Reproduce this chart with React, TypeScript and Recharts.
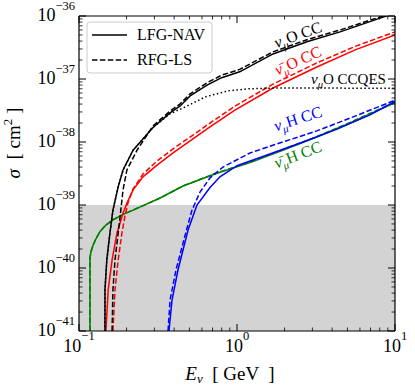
import { LineChart, Line, XAxis, YAxis, ReferenceArea } from 'recharts';

// energy (GeV) / cross section (cm^2) points
const NUMU_O_LFG = [
  { e: 0.146, s: 1e-41 }, { e: 0.146, s: 4.5e-41 }, { e: 0.15, s: 1.35e-40 }, { e: 0.157, s: 3.6e-40 },
  { e: 0.164, s: 8.3e-40 }, { e: 0.177, s: 1.94e-39 }, { e: 0.19, s: 3.6e-39 }, { e: 0.22, s: 7.4e-39 },
  { e: 0.294, s: 1.7e-38 }, { e: 0.377, s: 2.9e-38 }, { e: 0.435, s: 3.7e-38 }, { e: 0.505, s: 5.4e-38 },
  { e: 0.646, s: 8.0e-38 }, { e: 0.8, s: 1.05e-37 }, { e: 1.04, s: 1.3e-37 }, { e: 1.69, s: 2.5e-37 },
  { e: 2.77, s: 3.9e-37 }, { e: 4.49, s: 5.6e-37 }, { e: 8.4, s: 9.6e-37 }, { e: 10, s: 1.1e-36 },
];
const NUMU_O_RFG = [
  { e: 0.162, s: 1e-41 }, { e: 0.164, s: 4.5e-41 }, { e: 0.169, s: 1.35e-40 }, { e: 0.177, s: 3.6e-40 },
  { e: 0.182, s: 6.5e-40 }, { e: 0.19, s: 1.74e-39 }, { e: 0.201, s: 3.6e-39 }, { e: 0.233, s: 7.4e-39 },
  { e: 0.294, s: 1.8e-38 }, { e: 0.377, s: 3.1e-38 }, { e: 0.435, s: 4.0e-38 }, { e: 0.505, s: 5.8e-38 },
  { e: 0.646, s: 8.7e-38 }, { e: 0.8, s: 1.15e-37 }, { e: 1.04, s: 1.42e-37 }, { e: 1.69, s: 2.7e-37 },
  { e: 2.77, s: 4.2e-37 }, { e: 4.49, s: 6.0e-37 }, { e: 8.4, s: 1.0e-36 }, { e: 10, s: 1.15e-36 },
];
const NUMU_O_CCQES = [
  { e: 0.146, s: 1e-41 }, { e: 0.146, s: 4.5e-41 }, { e: 0.15, s: 1.35e-40 }, { e: 0.157, s: 3.6e-40 },
  { e: 0.164, s: 8.3e-40 }, { e: 0.177, s: 1.94e-39 }, { e: 0.19, s: 3.6e-39 }, { e: 0.22, s: 7.4e-39 },
  { e: 0.294, s: 1.7e-38 }, { e: 0.377, s: 2.8e-38 }, { e: 0.47, s: 3.6e-38 }, { e: 0.63, s: 5.2e-38 },
  { e: 0.88, s: 6.5e-38 }, { e: 1.2, s: 7.0e-38 }, { e: 1.8, s: 7.2e-38 }, { e: 3, s: 7.2e-38 },
  { e: 10, s: 7.1e-38 },
];
const NUMUBAR_O_LFG = [
  { e: 0.148, s: 1e-41 }, { e: 0.153, s: 4.5e-41 }, { e: 0.162, s: 1.35e-40 }, { e: 0.174, s: 3.6e-40 },
  { e: 0.19, s: 7.4e-40 }, { e: 0.201, s: 1.07e-39 }, { e: 0.22, s: 1.74e-39 }, { e: 0.254, s: 2.8e-39 },
  { e: 0.312, s: 4.3e-39 }, { e: 0.394, s: 6.7e-39 }, { e: 0.505, s: 1.04e-38 }, { e: 0.675, s: 1.74e-38 },
  { e: 0.97, s: 3.2e-38 }, { e: 1.69, s: 7.2e-38 }, { e: 3.2, s: 1.55e-37 }, { e: 5.6, s: 2.9e-37 },
  { e: 10, s: 5.0e-37 },
];
const NUMUBAR_O_RFG = [
  { e: 0.164, s: 1e-41 }, { e: 0.169, s: 4.5e-41 }, { e: 0.177, s: 1.35e-40 }, { e: 0.187, s: 3.6e-40 },
  { e: 0.195, s: 6.5e-40 }, { e: 0.204, s: 1.07e-39 }, { e: 0.22, s: 1.8e-39 }, { e: 0.254, s: 3.1e-39 },
  { e: 0.312, s: 5.0e-39 }, { e: 0.394, s: 7.8e-39 }, { e: 0.505, s: 1.2e-38 }, { e: 0.675, s: 2.0e-38 },
  { e: 0.97, s: 3.7e-38 }, { e: 1.69, s: 8.3e-38 }, { e: 3.2, s: 1.8e-37 }, { e: 5.6, s: 3.3e-37 },
  { e: 10, s: 5.6e-37 },
];
const NUMU_H_LFG = [
  { e: 0.371, s: 1e-41 }, { e: 0.388, s: 3.1e-41 }, { e: 0.423, s: 9.3e-41 }, { e: 0.49, s: 4.0e-40 },
  { e: 0.558, s: 1.0e-39 }, { e: 0.675, s: 1.9e-39 }, { e: 0.78, s: 2.8e-39 }, { e: 1.0, s: 4.2e-39 },
  { e: 1.55, s: 6.2e-39 }, { e: 2.62, s: 1.0e-38 }, { e: 4.3, s: 1.6e-38 }, { e: 6.95, s: 2.7e-38 },
  { e: 10, s: 4.4e-38 },
];
const NUMU_H_RFG = [
  { e: 0.366, s: 1e-41 }, { e: 0.377, s: 3.1e-41 }, { e: 0.411, s: 9.3e-41 }, { e: 0.469, s: 3.3e-40 },
  { e: 0.519, s: 8.3e-40 }, { e: 0.583, s: 1.6e-39 }, { e: 0.675, s: 2.7e-39 }, { e: 0.815, s: 4.0e-39 },
  { e: 1.21, s: 6.7e-39 }, { e: 1.95, s: 1.0e-38 }, { e: 3.2, s: 1.5e-38 }, { e: 5.2, s: 2.4e-38 },
  { e: 10, s: 4.6e-38 },
];
const NUMUBAR_H_LFG = [
  { e: 0.1174, s: 1e-41 }, { e: 0.1174, s: 1.45e-40 }, { e: 0.119, s: 1.8e-40 }, { e: 0.1227, s: 2.3e-40 },
  { e: 0.128, s: 2.9e-40 }, { e: 0.136, s: 3.8e-40 }, { e: 0.148, s: 4.8e-40 }, { e: 0.164, s: 5.8e-40 },
  { e: 0.19, s: 7.1e-40 }, { e: 0.22, s: 8.3e-40 }, { e: 0.326, s: 1.29e-39 }, { e: 0.455, s: 2.0e-39 },
  { e: 0.747, s: 3.2e-39 }, { e: 1.21, s: 4.7e-39 }, { e: 1.95, s: 7.4e-39 }, { e: 3.2, s: 1.2e-38 },
  { e: 5.2, s: 2.0e-38 }, { e: 10, s: 4.2e-38 },
];
const NUMUBAR_H_RFG = [
  { e: 0.1174, s: 1e-41 }, { e: 0.1174, s: 1.45e-40 }, { e: 0.119, s: 1.8e-40 }, { e: 0.1227, s: 2.3e-40 },
  { e: 0.128, s: 2.9e-40 }, { e: 0.136, s: 3.8e-40 }, { e: 0.148, s: 4.8e-40 }, { e: 0.164, s: 5.8e-40 },
  { e: 0.19, s: 7.1e-40 }, { e: 0.22, s: 8.3e-40 }, { e: 0.326, s: 1.29e-39 }, { e: 0.455, s: 2.0e-39 },
  { e: 0.747, s: 3.25e-39 }, { e: 1.21, s: 4.8e-39 }, { e: 1.95, s: 7.6e-39 }, { e: 3.2, s: 1.22e-38 },
  { e: 5.2, s: 2.05e-38 }, { e: 10, s: 4.3e-38 },
];

const X_MAJOR = [0.1, 1, 10];
const X_EXP = ['−1', '0', '1'];
const Y_MAJOR = [1e-41, 1e-40, 1e-39, 1e-38, 1e-37, 1e-36];
const Y_EXP = ['−41', '−40', '−39', '−38', '−37', '−36'];
const MANTISSAS = [2, 3, 4, 5, 6, 7, 8, 9];

const X_TICKS = [...X_MAJOR, ...[0.1, 1].flatMap((d) => MANTISSAS.map((m) => m * d))];
const Y_TICKS = [...Y_MAJOR, ...Y_MAJOR.slice(0, 5).flatMap((d) => MANTISSAS.map((m) => m * d))];

const FONT = '"Liberation Serif", "DejaVu Serif", serif';
const W = 415;
const H = 387;

const findMajor = (list: number[], v: number) => list.findIndex((t) => Math.abs(t - v) / t < 1e-6);

function makeXTick(side: 'bottom' | 'top') {
  return (props: any) => {
    const { x, y, payload } = props;
    const idx = findMajor(X_MAJOR, payload.value);
    const major = idx >= 0;
    const len = major ? 7 : 3.5;
    const dir = side === 'bottom' ? -1 : 1;
    return (
      <g>
        <line x1={x} y1={y} x2={x} y2={y + dir * len} stroke="#000" strokeWidth={major ? 1 : 0.8} />
        {major && side === 'bottom' && (
          <text x={x} y={y + 21} textAnchor="middle" fontFamily={FONT} fontSize={18} fill="#000">
            <tspan>10</tspan>
            <tspan dy={-12} fontSize={12.5}>{X_EXP[idx]}</tspan>
          </text>
        )}
      </g>
    );
  };
}

function makeYTick(side: 'left' | 'right') {
  return (props: any) => {
    const { x, y, payload } = props;
    const idx = findMajor(Y_MAJOR, payload.value);
    const major = idx >= 0;
    const len = major ? 7 : 3.5;
    const dir = side === 'left' ? 1 : -1;
    return (
      <g>
        <line x1={x} y1={y} x2={x + dir * len} y2={y} stroke="#000" strokeWidth={major ? 1 : 0.8} />
        {major && side === 'left' && (
          <text x={x - 4} y={y + 5} textAnchor="end" fontFamily={FONT} fontSize={18} fill="#000">
            <tspan>10</tspan>
            <tspan dy={-11} fontSize={12.5}>{Y_EXP[idx]}</tspan>
          </text>
        )}
      </g>
    );
  };
}

const BottomTick = makeXTick('bottom');
const TopTick = makeXTick('top');
const LeftTick = makeYTick('left');
const RightTick = makeYTick('right');

function CurveLabel({ x, y, angle, color, bar, target }: { x: number; y: number; angle: number; color: string; bar?: boolean; target: string }) {
  return (
    <text transform={`translate(${x},${y}) rotate(${angle})`} y={5} textAnchor="middle" fontFamily={FONT} fontSize={16} fill={color}>
      <tspan fontStyle="italic">{bar ? 'ν\u0304' : 'ν'}</tspan>
      <tspan fontStyle="italic" fontSize={11} dy={4}>μ</tspan>
      <tspan dy={-4}>{target}</tspan>
    </text>
  );
}

function Overlay() {
  return (
    <svg width={W} height={H} style={{ position: 'absolute', left: 0, top: 0, pointerEvents: 'none' }}>
      {/* legend */}
      <rect x={87} y={22} width={125} height={51} rx={3} fill="#fff" fillOpacity={0.85} stroke="#cccccc" />
      <line x1={92} y1={35} x2={127} y2={35} stroke="#000" strokeWidth={1.5} />
      <line x1={92} y1={60} x2={127} y2={60} stroke="#000" strokeWidth={1.5} strokeDasharray="5.5 2.4" />
      <text x={137} y={40} fontFamily={FONT} fontSize={16} fill="#000">LFG-NAV</text>
      <text x={137} y={65} fontFamily={FONT} fontSize={16} fill="#000">RFG-LS</text>

      {/* curve annotations */}
      <CurveLabel x={298} y={35} angle={-20} color="#000" target="O CC" />
      <CurveLabel x={298} y={61} angle={-24} color="#ff0000" bar target="O CC" />
      <CurveLabel x={298} y={119} angle={-18} color="#0000ff" target="H CC" />
      <CurveLabel x={298} y={155} angle={-21} color="#008000" bar target="H CC" />
      <text x={311} y={84} fontFamily={FONT} fontSize={15} fill="#000">
        <tspan fontStyle="italic">ν</tspan>
        <tspan fontStyle="italic" fontSize={10.5} dy={4}>μ</tspan>
        <tspan dy={-4}>O CCQES</tspan>
      </text>

      {/* axis titles */}
      <text x={230} y={380} textAnchor="middle" fontFamily={FONT} fontSize={19} fill="#000" style={{ whiteSpace: 'pre' }}>
        <tspan fontStyle="italic">E</tspan>
        <tspan fontStyle="italic" fontSize={13} dy={3}>ν</tspan>
        <tspan dy={-3}>{'  [ GeV  ]'}</tspan>
      </text>
      <text transform="translate(20,143) rotate(-90)" textAnchor="middle" fontFamily={FONT} fontSize={19} fill="#000" style={{ whiteSpace: 'pre' }}>
        <tspan fontStyle="italic">σ</tspan>
        <tspan>{'  [ cm'}</tspan>
        <tspan fontSize={13} dy={-8}>2</tspan>
        <tspan dy={8}>{' ]'}</tspan>
      </text>
    </svg>
  );
}

export default function App() {
  const lineProps = { type: 'linear' as const, dataKey: 's', dot: false, isAnimationActive: false, xAxisId: 'b', yAxisId: 'l', strokeWidth: 1.5 };
  const dash = '5.5 2.4';
  const axisLine = { stroke: '#000', strokeWidth: 1.2 };
  return (
    <div style={{ position: 'absolute', left: 0, top: 0, width: W, height: H, background: '#fff' }}>
      <LineChart width={W} height={H} margin={{ top: 6, right: 10, bottom: 26, left: 19 }}>
        <XAxis xAxisId="b" dataKey="e" type="number" scale="log" domain={[0.1, 10]} allowDataOverflow ticks={X_TICKS} interval={0}
          height={30} tickSize={0} tickMargin={0} tickLine={false} axisLine={axisLine} tick={BottomTick} />
        <XAxis xAxisId="t" orientation="top" dataKey="e" type="number" scale="log" domain={[0.1, 10]} allowDataOverflow ticks={X_TICKS} interval={0}
          height={10} tickSize={0} tickMargin={0} tickLine={false} axisLine={axisLine} tick={TopTick} />
        <YAxis yAxisId="l" type="number" scale="log" domain={[1e-41, 1e-36]} allowDataOverflow ticks={Y_TICKS} interval={0}
          width={60} tickSize={0} tickMargin={0} tickLine={false} axisLine={axisLine} tick={LeftTick} />
        <YAxis yAxisId="r" orientation="right" type="number" scale="log" domain={[1e-41, 1e-36]} allowDataOverflow ticks={Y_TICKS} interval={0}
          width={10} tickSize={0} tickMargin={0} tickLine={false} axisLine={axisLine} tick={RightTick} />

        <ReferenceArea xAxisId="b" yAxisId="l" x1={0.1} x2={10} y1={1e-41} y2={1e-39} fill="#d3d3d3" fillOpacity={1} stroke="none" ifOverflow="hidden" />

        <Line {...lineProps} data={NUMUBAR_H_LFG} stroke="#008000" />
        <Line {...lineProps} data={NUMUBAR_H_RFG} stroke="#008000" strokeDasharray={dash} />
        <Line {...lineProps} data={NUMU_H_LFG} stroke="#0000ff" />
        <Line {...lineProps} data={NUMU_H_RFG} stroke="#0000ff" strokeDasharray={dash} />
        <Line {...lineProps} data={NUMUBAR_O_LFG} stroke="#ff0000" />
        <Line {...lineProps} data={NUMUBAR_O_RFG} stroke="#ff0000" strokeDasharray={dash} />
        <Line {...lineProps} data={NUMU_O_CCQES} stroke="#000" strokeDasharray="1.5 2.5" />
        <Line {...lineProps} data={NUMU_O_LFG} stroke="#000" />
        <Line {...lineProps} data={NUMU_O_RFG} stroke="#000" strokeDasharray={dash} />
      </LineChart>
      <Overlay />
    </div>
  );
}
